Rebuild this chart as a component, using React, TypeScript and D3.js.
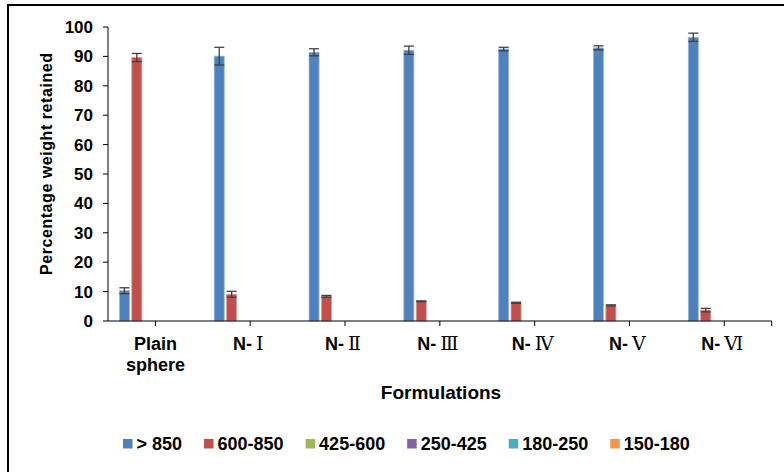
import * as d3 from "d3";

const categories = ["Plain sphere", "N-Ⅰ", "N-Ⅱ", "N-Ⅲ", "N-Ⅳ", "N-Ⅴ", "N-Ⅵ"];
const seriesNames = ["> 850", "600-850", "425-600", "250-425", "180-250", "150-180"];
const seriesColors = ["#4F81BD", "#C0504D", "#9BBB59", "#8064A2", "#4BACC6", "#F79646"];

// percentage weight retained per sieve fraction
const over850 = [10.3, 90.1, 91.4, 92.1, 92.5, 92.9, 96.5];
const over850Err = [1.0, 3.0, 1.2, 1.4, 0.6, 0.7, 1.4];
const from600to850 = [89.6, 9.1, 8.4, 6.7, 6.2, 5.3, 3.7];
const from600to850Err = [1.4, 1.0, 0.3, 0.15, 0.2, 0.2, 0.6];
const from425to600 = [0, 0, 0, 0, 0, 0, 0];
const from250to425 = [0, 0, 0, 0, 0, 0, 0];
const from180to250 = [0, 0, 0, 0, 0, 0, 0];
const from150to180 = [0, 0, 0, 0, 0, 0, 0];

const yTicks = [0, 10, 20, 30, 40, 50, 60, 70, 80, 90, 100];

const values = [over850, from600to850, from425to600, from250to425, from180to250, from150to180];
const errors: (number[] | null)[] = [over850Err, from600to850Err, null, null, null, null];

const W = 784;
const H = 472;
const left = 108;
const right = 771.7;
const top = 27;
const bottom = 321;
const font = "'Liberation Sans', Arial, sans-serif";
const legendFont = 18;

function measure(text: string, size: number) {
  const ctx = document.createElement("canvas").getContext("2d");
  if (!ctx) return text.length * size * 0.55;
  ctx.font = `bold ${size}px 'Liberation Sans', Arial, sans-serif`;
  return ctx.measureText(text).width;
}

export default function App() {
  const x0 = d3.scaleBand<string>().domain(categories).range([left, right]);
  const bw = x0.bandwidth();
  const pad = 11.4;
  const x1 = d3.scaleBand<string>().domain(seriesNames).range([pad, bw - pad]).paddingInner(0.19);
  const y = d3.scaleLinear().domain([0, 100]).range([bottom, top]);

  // legend items flow left to right
  const legendPos: number[] = [];
  let lx = 123;
  seriesNames.forEach((s) => {
    legendPos.push(lx);
    lx += 13.5 + measure(s, legendFont) + 22;
  });

  const renderCat = (c: string) => {
    const m = c.match(/^(N-)(.+)$/);
    const cx = (x0(c) ?? 0) + bw / 2;
    if (m) {
      return (
        <text key={c} x={cx - 2} y={350} textAnchor="middle" fontFamily={font} fontWeight="bold" fontSize={18}>
          {m[1]}
          <tspan dx={4} fontFamily="'DejaVu Serif', serif" fontWeight="normal" fontSize={19}>
            {m[2]}
          </tspan>
        </text>
      );
    }
    const words = c.split(" ");
    return (
      <text key={c} x={cx} y={350} textAnchor="middle" fontFamily={font} fontWeight="bold" fontSize={18}>
        {words.map((w, i) => (
          <tspan key={w} x={cx} dy={i === 0 ? 0 : 21}>
            {w}
          </tspan>
        ))}
      </text>
    );
  };

  return (
    <svg width={W} height={H} style={{ position: "absolute", left: 0, top: 0, background: "#fff" }}>
      <rect x={0} y={0} width={W} height={H} fill="#fff" />
      {/* frame */}
      <path d={`M8,${H + 5} V5 H${W + 5}`} fill="none" stroke="#000" strokeWidth={2} />

      {/* bars */}
      {categories.map((c, ci) => (
        <g key={c} transform={`translate(${x0(c)},0)`}>
          {seriesNames.map((s, si) => {
            const v = values[si][ci];
            if (v <= 0) return null;
            const bx = x1(s) ?? 0;
            return (
              <rect
                key={s}
                x={bx}
                y={y(v)}
                width={x1.bandwidth()}
                height={bottom - y(v)}
                fill={seriesColors[si]}
                stroke={d3.interpolateRgb(seriesColors[si], "#fff")(0.45)}
                strokeWidth={0.8}
              />
            );
          })}
          {seriesNames.map((s, si) => {
            const err = errors[si];
            const v = values[si][ci];
            if (!err || v <= 0) return null;
            const e = err[ci];
            const cx = (x1(s) ?? 0) + x1.bandwidth() / 2;
            const y1 = y(v + e);
            const y2 = y(v - e);
            return (
              <g key={s} stroke="#404040" strokeWidth={1.3} fill="none">
                <line x1={cx} x2={cx} y1={y1} y2={y2} />
                <line x1={cx - 5} x2={cx + 5} y1={y1} y2={y1} />
                <line x1={cx - 5} x2={cx + 5} y1={y2} y2={y2} />
              </g>
            );
          })}
        </g>
      ))}

      {/* y axis */}
      <line x1={left} x2={left} y1={top} y2={bottom} stroke="#000" strokeWidth={1} />
      {yTicks.map((t) => (
        <g key={t}>
          <line x1={left - 5} x2={left} y1={y(t)} y2={y(t)} stroke="#000" strokeWidth={1} />
          <text
            x={93}
            y={y(t)}
            dy="0.35em"
            textAnchor="end"
            fontFamily={font}
            fontWeight="bold"
            fontSize={17}
          >
            {t}
          </text>
        </g>
      ))}
      <text
        transform={`translate(52,164) rotate(-90)`}
        textAnchor="middle"
        fontFamily={font}
        fontWeight="bold"
        fontSize={16}
        textLength={222}
        lengthAdjust="spacing"
      >
        Percentage weight retained
      </text>

      {/* x axis */}
      <line x1={left} x2={right} y1={bottom} y2={bottom} stroke="#000" strokeWidth={1} />
      {categories.map((c) => (
        <line
          key={c}
          x1={(x0(c) ?? 0) + bw / 2}
          x2={(x0(c) ?? 0) + bw / 2}
          y1={bottom}
          y2={bottom + 5}
          stroke="#000"
        />
      ))}
      <line x1={right} x2={right} y1={bottom} y2={bottom + 5} stroke="#000" />
      {categories.map(renderCat)}
      <text x={441} y={399} textAnchor="middle" fontFamily={font} fontWeight="bold" fontSize={19}>
        Formulations
      </text>

      {/* legend */}
      {seriesNames.map((s, i) => (
        <g key={s} transform={`translate(${legendPos[i]},444)`}>
          <rect x={0} y={-5} width={9.5} height={9.5} fill={seriesColors[i]} />
          <text x={13.5} y={0} dy="0.35em" fontFamily={font} fontWeight="bold" fontSize={legendFont}>
            {s}
          </text>
        </g>
      ))}
    </svg>
  );
}
